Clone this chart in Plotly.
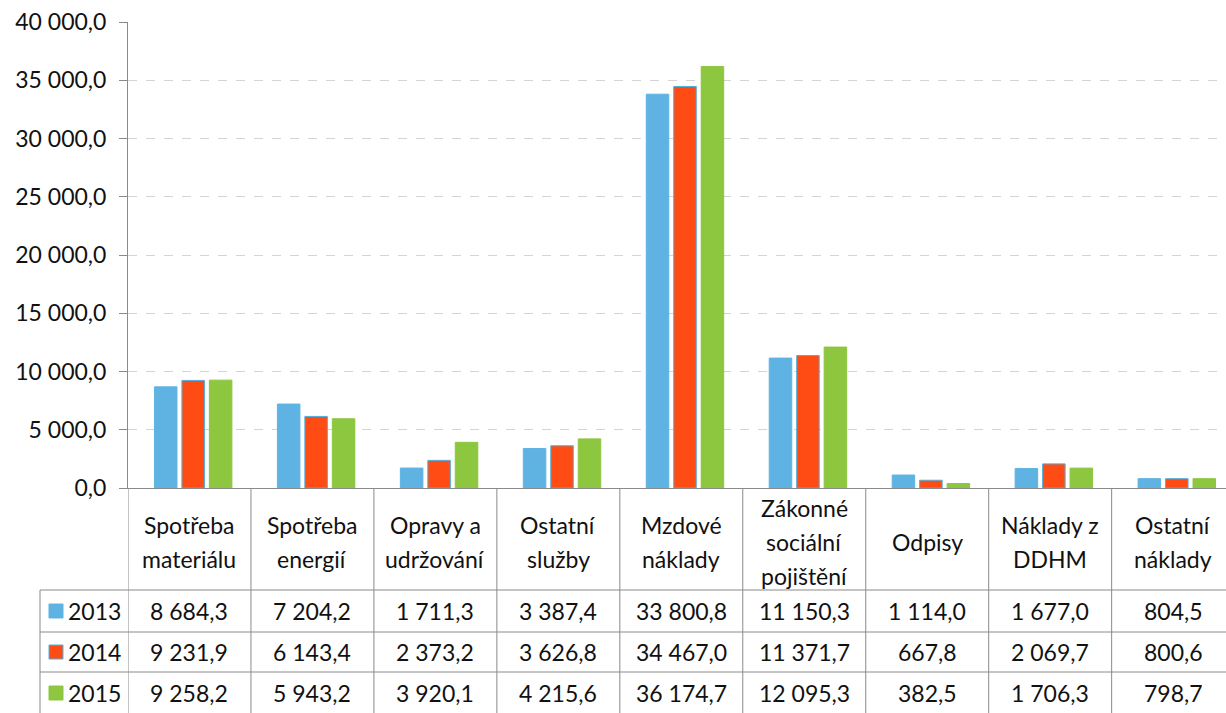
import plotly.graph_objects as go

categories = ["Spotřeba\nmateriálu", "Spotřeba\nenergií", "Opravy a\nudržování", "Ostatní\nslužby",
              "Mzdové\nnáklady", "Zákonné\nsociální\npojištění", "Odpisy", "Náklady z\nDDHM", "Ostatní\nnáklady"]
years = ["2013", "2014", "2015"]
v2013 = [8684.3, 7204.2, 1711.3, 3387.4, 33800.8, 11150.3, 1114.0, 1677.0, 804.5]
v2014 = [9231.9, 6143.4, 2373.2, 3626.8, 34467.0, 11371.7, 667.8, 2069.7, 800.6]
v2015 = [9258.2, 5943.2, 3920.1, 4215.6, 36174.7, 12095.3, 382.5, 1706.3, 798.7]
colors = ["#5FB3E2", "#FF4C14", "#8DC63F"]
series = [v2013, v2014, v2015]

W, H = 1226, 713
FONT = "Lato"
FS = 23

def py(p):
    return 1 - p / H

def fmt(v):
    s = f"{v:,.1f}"
    return s.replace(",", " ").replace(".", ",")

xs = list(range(len(categories)))
fig = go.Figure()
for i, (yr, vals, c) in enumerate(zip(years, series, colors)):
    fig.add_trace(go.Bar(
        x=xs, y=vals, name=yr, marker_color=c,
        marker_line=dict(color="#4FB0E0" if i == 1 else c, width=1),
        showlegend=False, hoverinfo="skip"))

top_px, zero_px = 22, 488
fig.update_layout(
    width=W, height=H,
    margin=dict(l=0, r=0, t=0, b=0, autoexpand=False),
    paper_bgcolor="white", plot_bgcolor="white",
    barmode="group", bargap=0.33, bargroupgap=0.18,
    separators=", ",
    font=dict(family=FONT, size=FS, color="#111"),
    xaxis=dict(domain=[128 / W, 1], range=[-0.53, 8.40], showticklabels=False,
               showgrid=False, zeroline=False, showline=True, linecolor="#8a8a8a",
               linewidth=1, ticks="", automargin=False),
    yaxis=dict(domain=[py(zero_px), py(top_px)], range=[0, 40000], dtick=5000,
               tickformat=",.1f", showgrid=True, gridcolor="#d4d4d4", griddash="dash",
               gridwidth=1, zeroline=False, showline=True, linecolor="#8a8a8a",
               linewidth=1, ticks="outside", ticklen=8, tickcolor="#8a8a8a",
               ticklabelstandoff=8, automargin=False,
               tickfont=dict(size=FS, family=FONT, color="#111")),
)

shapes = []
line = dict(color="#8a8a8a", width=1)
for k in range(len(categories) + 1):
    shapes.append(dict(type="line", xref="x", yref="paper", x0=k - 0.53, x1=k - 0.53,
                       y0=0, y1=py(zero_px), line=line))
row_tops = [590, 632, 672]
for r in row_tops:
    shapes.append(dict(type="line", xref="paper", yref="paper", x0=40 / W, x1=1,
                       y0=py(r), y1=py(r), line=line))
shapes.append(dict(type="line", xref="paper", yref="paper", x0=40 / W, x1=40 / W,
                   y0=0, y1=py(590), line=line))

ann = []
for k, cat in enumerate(categories):
    lines = cat.split("\n")
    n = len(lines)
    for j, ln in enumerate(lines):
        ypix = 542 + (j - (n - 1) / 2) * 34
        ann.append(dict(x=k - 0.03, y=py(ypix), xref="x", yref="paper", text=ln, showarrow=False,
                        xanchor="center", yanchor="middle", font=dict(size=FS, family=FONT, color="#111")))
row_centers = [611, 652, 693]
for yr, vals, c, yc in zip(years, series, colors, row_centers):
    for k, v in enumerate(vals):
        ann.append(dict(x=k - 0.03, y=py(yc), xref="x", yref="paper", text=fmt(v), showarrow=False,
                        xanchor="center", yanchor="middle", font=dict(size=FS, family=FONT, color="#111")))
    ann.append(dict(x=123 / W, y=py(yc), xref="paper", yref="paper", text=yr, showarrow=False,
                    xanchor="right", yanchor="middle", font=dict(size=FS, family=FONT, color="#111")))
    shapes.append(dict(type="rect", xref="paper", yref="paper", x0=49 / W, x1=63 / W,
                       y0=py(yc + 7), y1=py(yc - 7), fillcolor=c,
                       line=dict(color="#4FB0E0" if yr == "2014" else c, width=1)))

fig.update_layout(shapes=shapes, annotations=ann, hovermode=False)
fig.write_html("out.html", config={"displayModeBar": False, "staticPlot": True},
               post_script="document.body.style.margin='0';document.body.style.overflow='hidden';")
